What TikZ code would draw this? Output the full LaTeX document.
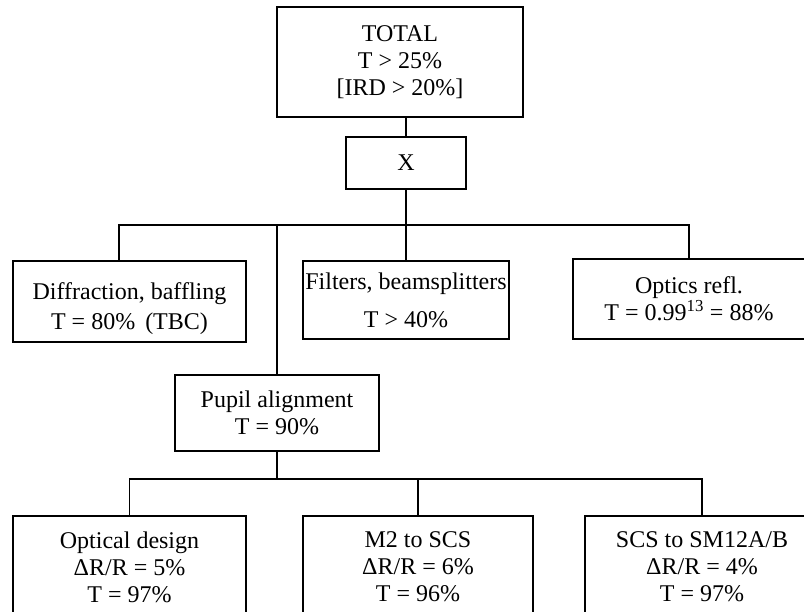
\documentclass[tikz,border=0pt]{standalone}
\usepackage{fontspec}
\setmainfont{Liberation Serif}
\usetikzlibrary{positioning}

\tikzset{
  blk/.style={draw,line width=1.7pt,align=center,inner sep=0pt,
    font=\fontsize{24}{27}\selectfont},
}

\begin{document}
\begin{tikzpicture}[x=1pt,y=-1pt,line width=1.7pt]
  \useasboundingbox (0,0) rectangle (804,612);
  \clip (0,0) rectangle (804,612);
  % top
  \node[blk,minimum width=246,minimum height=110] (total) at (400,62)
    {TOTAL\\T > 25\%\\{[}IRD > 20\%{]}};
  \node[blk,minimum width=120,minimum height=52] (xbox) at (406,163) {X};
  % second row
  \node[blk,minimum width=233,minimum height=81] (diff) at (129.5,301.5)
    {\rule{0pt}{32pt}Diffraction, baffling\\[3pt]T = 80\%\ \,(TBC)};
  \node[blk,minimum width=206,minimum height=78] (filt) at (406,300)
    {Filters, beamsplitters\\[11pt]T > 40\%};
  \node[blk,minimum width=232,minimum height=80] (optics) at (689,299)
    {Optics refl.\\T = 0.99\textsuperscript{13} = 88\%};
  \node[blk,minimum width=204,minimum height=76] (pupil) at (277,413)
    {Pupil alignment\\T = 90\%};
  % bottom row
  \node[blk,minimum width=233,minimum height=102] (optical) at (129.5,567)
    {Optical design\\ΔR/R = 5\%\\T = 97\%};
  \node[blk,minimum width=230,minimum height=102] (m2) at (418,567)
    {M2 to SCS\\ΔR/R = 6\%\\T = 96\%};
  \node[blk,minimum width=234,minimum height=102] (scs) at (702,567)
    {SCS to SM12A/B\\ΔR/R = 4\%\\T = 97\%};
  % connectors
  \coordinate (bus) at (119,225);
  \coordinate (bus2) at (0,479);
  \draw (xbox.north) -- (xbox.north |- total.south);
  \draw (xbox.south) -- (filt.north);
  \draw (bus |- diff.north) -- (bus) -- (optics.north |- bus) -- (optics.north);
  \draw (pupil.north) -- (pupil.north |- bus);
  \draw (pupil.south) -- (pupil.south |- bus2);
  \draw (optical.north) -- (optical.north |- bus2) -- (scs.north |- bus2) -- (scs.north);
  \draw (m2.north) -- (m2.north |- bus2);
\end{tikzpicture}
\end{document}
